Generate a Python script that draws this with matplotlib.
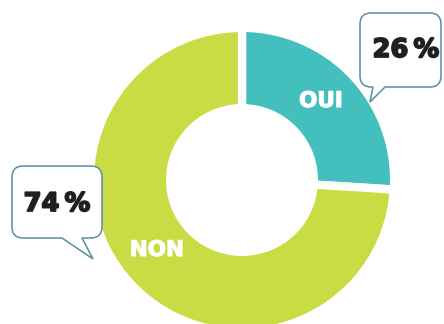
import matplotlib
matplotlib.use("Agg")
import matplotlib.pyplot as plt
import matplotlib.patheffects as pe
from matplotlib.path import Path
from matplotlib.patches import PathPatch

labels = ["OUI", "NON"]
values = [26, 74]
colors = ["#43C0BD", "#C9DC44"]

W, H = 444, 324
BORDER = "#5C8CA2"
INK = "#231F20"


def px(x, y):
    # pixel coords (origin top-left) -> data coords
    return (x, H - y)


def bubble_path(x0, y0, x1, y1, tail, r=11):
    bl, br, tx, ty = tail
    M, L, C, Z = Path.MOVETO, Path.LINETO, Path.CURVE3, Path.CLOSEPOLY
    verts = [
        (x0 + r, y0), (x1 - r, y0),
        (x1, y0), (x1, y0 + r),
        (x1, y1 - r),
        (x1, y1), (x1 - r, y1),
        (br, y1), (tx, ty), (bl, y1),
        (x0 + r, y1),
        (x0, y1), (x0, y1 - r),
        (x0, y0 + r),
        (x0, y0), (x0 + r, y0),
        (x0 + r, y0),
    ]
    codes = [M, L, C, C, L, C, C, L, L, L, L, C, C, L, C, C, Z]
    return Path([px(*v) for v in verts], codes)


fig = plt.figure(figsize=(W / 100, H / 100), dpi=100)
ax = fig.add_axes([0, 0, 1, 1])

cx, cy = px(242, 180)
outer, inner = 148, 76
lw = 6.0
pad = lw / 72 * 100 / 2
ax.pie(values, colors=colors, startangle=90, counterclock=False,
       center=(cx, cy), radius=outer + pad,
       wedgeprops=dict(width=outer - inner + 2 * pad, edgecolor="white", linewidth=lw))

ax.set_xlim(0, W)
ax.set_ylim(0, H)
ax.set_aspect("equal")
ax.axis("off")

# segment names inside the ring
heavy_white = [pe.withStroke(linewidth=0.8, foreground="white")]
ax.text(*px(321, 101), labels[0], color="white", fontsize=15.5, fontweight="bold",
        ha="center", va="center", path_effects=heavy_white)
ax.text(*px(157, 250), labels[1], color="white", fontsize=15.5, fontweight="bold",
        ha="center", va="center", path_effects=heavy_white)

# callouts with the percentages
callouts = [
    ((360, 13, 441, 87), (373, 385, 370, 102), (406, 50), values[0]),
    ((12, 166, 102, 238), (62, 82, 93, 259), (57, 204), values[1]),
]
heavy_ink = [pe.withStroke(linewidth=1.3, foreground=INK)]
for box, tail, pos, v in callouts:
    ax.add_patch(PathPatch(bubble_path(*box, tail), facecolor="white",
                           edgecolor=BORDER, linewidth=1.1, zorder=3))
    ax.text(*px(*pos), f"{v}\u2009%", color=INK, fontsize=18.5, fontweight="bold",
            ha="center", va="center", zorder=4, path_effects=heavy_ink)

fig.savefig("out.png", dpi=100)
